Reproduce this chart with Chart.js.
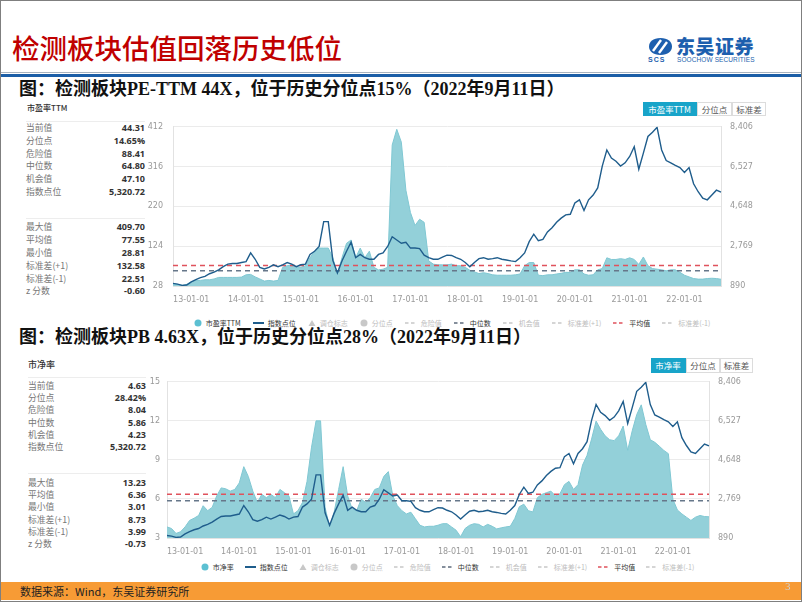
<!DOCTYPE html>
<html>
<head>
<meta charset="utf-8">
<script src="https://cdn.jsdelivr.net/npm/chart.js@4.4.0/dist/chart.umd.min.js"></script>
<style>
body{margin:0;background:#fff;font-family:"Noto Sans CJK SC",sans-serif;}
#page{position:relative;width:802px;height:602px;overflow:hidden;background:#fff;}
.frame{position:absolute;left:0;top:0;width:800px;height:600px;border:1px solid #7f7f7f;pointer-events:none;z-index:5;}
.title{position:absolute;left:12px;top:30px;font-size:27.5px;line-height:34px;color:#C00000;font-weight:500;white-space:nowrap;}
.hdr-line{position:absolute;left:0;top:72px;width:802px;height:1px;background:#a9b3bf;}
.hdr-bar{position:absolute;left:0;top:74px;width:802px;height:3px;background:#1b5ea7;}
.logo-cn{position:absolute;left:676px;top:34px;font-size:19px;line-height:24px;font-weight:900;color:#1d5fae;letter-spacing:0.5px;}
.logo-en{position:absolute;left:677px;top:56px;font-size:6.5px;line-height:8px;color:#1d5fae;font-family:"Liberation Sans",sans-serif;letter-spacing:0.1px;}
.logo-scs{position:absolute;left:648px;top:56px;font-size:7px;line-height:8px;color:#1d5fae;font-weight:bold;font-family:"Liberation Sans",sans-serif;letter-spacing:1px;}
.sub{position:absolute;left:19px;font-family:"Liberation Serif","Noto Sans CJK SC",serif;font-weight:bold;font-size:18px;line-height:20px;color:#111;white-space:nowrap;}
.cap{position:absolute;font-size:8px;line-height:10px;color:#333;font-weight:500;}
.stat{position:absolute;width:119px;}
.stat .row{display:flex;justify-content:space-between;align-items:center;}
.stat .k{color:#777;font-size:8.8px;}
.stat .v{color:#333;font-size:9px;font-weight:bold;font-family:"Open Sans",sans-serif;}
.hline{position:absolute;height:1px;background:#ededed;}
.btns{position:absolute;display:flex;}
.btns span{display:block;font-size:8.5px;text-align:center;border:1px solid #dcdcdc;border-left:none;color:#555;background:#fff;box-sizing:border-box;}
.btns span.on{background:#18a4c9;color:#fff;border-color:#18a4c9;}
.legend{position:absolute;display:flex;justify-content:center;align-items:center;font-size:7px;white-space:nowrap;}
.legend .it{display:flex;align-items:center;}
.legend svg{margin-right:4px;}
canvas{position:absolute;}
.foot{position:absolute;left:1px;top:582px;width:800px;height:18px;background:#f79b35;}
.foot-t{position:absolute;left:20px;top:584px;font-size:11px;line-height:14px;color:#222;}
.pg{position:absolute;left:785px;top:580px;font-size:11px;line-height:12px;color:#d0d0d0;font-family:"Liberation Serif",serif;z-index:6;}
</style>
</head>
<body>
<div id="page">
  <div class="title">检测板块估值回落历史低位</div>
  <svg style="position:absolute;left:648px;top:37px" width="25" height="19" viewBox="0 0 25 19">
    <path d="M12.5 1 C5 1 1 5 1 9.5 C1 14 5 18 12.5 18 C20 18 24 14 24 9.5 C24 5 20 1 12.5 1Z" fill="#1d5fae"/>
    <path d="M5 14 L13 3" stroke="#fff" stroke-width="2.4"/>
    <path d="M11 16 L19 5" stroke="#fff" stroke-width="2.4"/>
  </svg>
  <div class="logo-scs">SCS</div>
  <div class="logo-cn">东吴证券</div>
  <div class="logo-en">SOOCHOW SECURITIES</div>
  <div class="hdr-line"></div>
  <div class="hdr-bar"></div>

  <div class="sub" style="top:79px">图：检测板块PE-TTM 44X，位于历史分位点15%（2022年9月11日）</div>
  <div class="cap" style="left:27px;top:103px">市盈率TTM</div>
  <div class="hline" style="left:26px;top:121px;width:119px"></div>
  <div class="stat" id="peA" style="left:26px;top:121.5px"></div>
  <div class="hline" style="left:26px;top:218px;width:119px"></div>
  <div class="stat" id="peB" style="left:26px;top:220.5px"></div>
  <div class="btns" style="left:643px;top:102px" id="peBtns"></div>
  <canvas id="peChart" width="620" height="196" style="left:140px;top:112px"></canvas>
  <div class="legend" id="peLegend" style="left:150px;top:318px;width:604px;height:10px"></div>

  <div class="sub" style="top:327px">图：检测板块PB 4.63X，位于历史分位点28%（2022年9月11日）</div>
  <div class="cap" style="left:28px;top:360px;font-size:9px">市净率</div>
  <div class="hline" style="left:28px;top:377px;width:118px"></div>
  <div class="stat" id="pbA" style="left:28px;top:378.8px;width:118px"></div>
  <div class="hline" style="left:28px;top:473px;width:118px"></div>
  <div class="stat" id="pbB" style="left:28px;top:475.8px;width:118px"></div>
  <div class="btns" style="left:651px;top:358px" id="pbBtns"></div>
  <canvas id="pbChart" width="610" height="190" style="left:140px;top:368px"></canvas>
  <div class="legend" id="pbLegend" style="left:150px;top:562px;width:595px;height:10px"></div>

  <div class="foot"></div>
  <div class="foot-t">数据来源：Wind，东吴证券研究所</div>
  <div class="pg">3</div>
  <div class="frame"></div>
</div>
<script>
// 月度日期（2012-09 ~ 2022-09）
const months = [
  '2012-09','2012-10','2012-11','2012-12',
  '2013-01','2013-02','2013-03','2013-04','2013-05','2013-06','2013-07','2013-08','2013-09','2013-10','2013-11','2013-12',
  '2014-01','2014-02','2014-03','2014-04','2014-05','2014-06','2014-07','2014-08','2014-09','2014-10','2014-11','2014-12',
  '2015-01','2015-02','2015-03','2015-04','2015-05','2015-06','2015-07','2015-08','2015-09','2015-10','2015-11','2015-12',
  '2016-01','2016-02','2016-03','2016-04','2016-05','2016-06','2016-07','2016-08','2016-09','2016-10','2016-11','2016-12',
  '2017-01','2017-02','2017-03','2017-04','2017-05','2017-06','2017-07','2017-08','2017-09','2017-10','2017-11','2017-12',
  '2018-01','2018-02','2018-03','2018-04','2018-05','2018-06','2018-07','2018-08','2018-09','2018-10','2018-11','2018-12',
  '2019-01','2019-02','2019-03','2019-04','2019-05','2019-06','2019-07','2019-08','2019-09','2019-10','2019-11','2019-12',
  '2020-01','2020-02','2020-03','2020-04','2020-05','2020-06','2020-07','2020-08','2020-09','2020-10','2020-11','2020-12',
  '2021-01','2021-02','2021-03','2021-04','2021-05','2021-06','2021-07','2021-08','2021-09','2021-10','2021-11','2021-12',
  '2022-01','2022-02','2022-03','2022-04','2022-05','2022-06','2022-07','2022-08','2022-09'
];
const xTickLabels = ['13-01-01','14-01-01','15-01-01','16-01-01','17-01-01','18-01-01','19-01-01','20-01-01','21-01-01','22-01-01'];

// 指数点位
const indexPts = [
  1013,981,920,936,
  1086,1195,1286,1346,1468,1541,1651,1801,1924,1951,1951,1997,
  2042,2452,2152,1770,1696,1770,1892,1801,1892,1997,1924,1801,
  1892,1924,2379,2530,2758,3928,3928,2100,1500,2074,2530,2955,
  2225,2379,2225,2152,2152,2379,2452,2758,3213,3062,2909,2955,
  2681,2681,2653,2348,2225,2152,2152,2257,2348,2333,2225,2152,
  1997,1800,2000,2180,2226,2152,2180,2226,2152,2120,2074,2043,
  2226,2452,2985,3336,3031,3091,3441,3638,3896,4094,4246,4275,
  4807,4958,4458,4958,5186,5522,6553,7313,6934,6780,6553,6707,
  7007,7463,6402,7162,7950,8146,8380,7313,6812,6707,6584,6478,
  6251,6478,5718,5340,5035,4958,5186,5413,5321
];
// 市盈率TTM
const peTTM = [
  33,32,29.5,32,
  38,41.5,41.5,43,43,45,48.7,48.7,48.7,48.7,48.7,49.5,
  55,56,50,45,39.8,41.5,39.8,41.5,73,76.9,79,74.5,
  73,76.9,96,111.8,119.5,119.5,119.5,96,57.5,96,131,139,
  96,119.5,96,112,73,66.8,68.6,73,368,406,375,259,
  205,174,189,181.6,88.5,80.8,79,79,79,80.8,76.9,76.9,
  73,66,62,58,60,58,55,54,54,54,54,55,
  57,77,84.5,84.5,54,53,55,55,57,58.6,60.9,60.9,
  67,67,57,54,55,67,70,96,92,92,94,92,
  96,92,80,98,77,70,68.6,67,64.7,67,67,61,
  54,50,46,44.6,44.6,46,46.7,46,44.31
];
// 市净率
const pbVals = [
  3.85,3.73,3.35,3.48,
  3.85,4.35,4.52,4.73,5.48,5.1,5.35,6.23,6.85,6.78,6.6,6.73,
  7.23,8.48,7.73,6.6,5.73,6.35,6.1,6.35,6.1,6.73,6.48,6.23,
  4.85,5.1,5.73,7.35,9.98,12.0,12.0,5.35,3.85,4.98,6.73,8.48,
  6.23,5.23,5.1,5.98,5.73,6.1,6.73,6.85,7.73,8.1,6.23,5.48,
  5.1,4.85,4.98,4.48,3.98,3.85,3.9,3.9,3.98,4.1,4.1,3.85,
  3.6,3.1,3.73,3.98,4.1,4.05,3.85,4.05,3.9,3.7,3.78,3.85,
  3.9,4.5,5.4,5.6,5.1,5.0,6.1,6.35,6.48,6.6,6.23,6.4,
  7.1,7.35,6.73,7.1,8.6,9.35,10.6,11.98,11.35,10.85,10.55,10.48,
  10.85,11.6,9.73,11.23,12.48,13.23,11.73,10.55,10.35,10.05,9.73,9.48,
  5.98,5.15,4.85,4.6,4.35,4.6,4.73,4.65,4.63
];

const peTicks = [28,124,220,316,412];
const pbTicks = [3,6,9,12,15];
const idxTicks = [890,2769,4648,6527,8406];

const statKeysA = ['当前值','分位点','危险值','中位数','机会值','指数点位'];
const statKeysB = ['最大值','平均值','最小值','标准差(+1)','标准差(-1)','z 分数'];
const peStatsA = ['44.31','14.65%','88.41','64.80','47.10','5,320.72'];
const peStatsB = ['409.70','77.55','28.81','132.58','22.51','-0.60'];
const pbStatsA = ['4.63','28.42%','8.04','5.86','4.23','5,320.72'];
const pbStatsB = ['13.23','6.36','3.01','8.73','3.99','-0.73'];
const peMean = 77.55, peMedian = 64.80;
const pbMean = 6.36, pbMedian = 5.86;

const legendRest = ['指数点位','调仓标志','分位点','危险值','中位数','机会值','标准差(+1)','平均值','标准差(-1)'];

function fillStats(id, keys, vals, lh){
  const el = document.getElementById(id);
  keys.forEach((k,i)=>{
    const r = document.createElement('div');
    r.className = 'row'; r.style.height = lh+'px';
    r.innerHTML = `<span class="k">${k}</span><span class="v">${vals[i]}</span>`;
    el.appendChild(r);
  });
}
fillStats('peA', statKeysA, peStatsA, 12.7);
fillStats('peB', statKeysB, peStatsB, 12.8);
fillStats('pbA', statKeysA, pbStatsA, 12.4);
fillStats('pbB', statKeysB, pbStatsB, 12.4);

function makeBtns(id, first, widths, h){
  const el = document.getElementById(id);
  [first,'分位点','标准差'].forEach((t,i)=>{
    const s = document.createElement('span');
    if(i===0) s.className = 'on';
    s.textContent = t;
    s.style.width = widths[i]+'px'; s.style.height = h+'px'; s.style.lineHeight = (h-2)+'px';
    if(i>0) s.style.borderLeft = '1px solid #dcdcdc';
    el.appendChild(s);
  });
}
makeBtns('peBtns','市盈率TTM',[54,35,34],14);
makeBtns('pbBtns','市净率',[35,34,33],15);

function marker(kind){
  const grey = '#c8c8c8';
  if(kind==='dot') return '<svg width="8" height="8"><circle cx="4" cy="4" r="3.5" fill="#5cc0d2"/></svg>';
  if(kind==='line') return '<svg width="11" height="8"><line x1="0" y1="4" x2="11" y2="4" stroke="#1f5d8c" stroke-width="2"/></svg>';
  if(kind==='tri') return '<svg width="8" height="8"><path d="M4 1 L7.5 7 L0.5 7Z" fill="'+grey+'"/></svg>';
  if(kind==='gdot') return '<svg width="8" height="8"><circle cx="4" cy="4" r="3.5" fill="'+grey+'"/></svg>';
  const c = kind==='red' ? '#e0525c' : kind==='dark' ? '#5d6b7c' : grey;
  return '<svg width="12" height="8"><line x1="0" y1="4" x2="12" y2="4" stroke="'+c+'" stroke-width="1.5" stroke-dasharray="3.5,2.5"/></svg>';
}
function makeLegend(id, first, gap){
  const el = document.getElementById(id);
  const names = [first].concat(legendRest);
  const kinds = ['dot','line','tri','gdot','grey','dark','grey','grey','red','grey'];
  const on = [true,true,false,false,false,true,false,false,true,false];
  names.forEach((n,i)=>{
    const d = document.createElement('div');
    d.className = 'it';
    d.style.marginRight = (i<names.length-1 ? gap : 0)+'px';
    d.innerHTML = marker(kinds[i]) + `<span style="color:${on[i]?'#333':'#bdbdbd'}">${n}</span>`;
    el.appendChild(d);
  });
}
makeLegend('peLegend','市盈率TTM',12);
makeLegend('pbLegend','市净率',11);

function xLabel(i){
  const m = months[i];
  if(m.slice(5)!=='01') return '';
  return xTickLabels.find(t=>t.slice(0,2)===m.slice(2,4)) || '';
}

function makeChart(id, name, vals, yTicks, mean, median, g){
  const tickFont = {size:8, family:'DejaVu Sans'};
  const first = months[0], last = months[months.length-1];
  return new Chart(document.getElementById(id), {
    type:'line',
    data:{ labels: months, datasets:[
      {label:'指数点位', data:indexPts, yAxisID:'y1', borderColor:'#1f5d8c', borderWidth:1.4, pointRadius:0, tension:0, fill:false},
      {label:'平均值', data:[{x:first,y:mean},{x:last,y:mean}], yAxisID:'y', borderColor:'#e0525c', borderWidth:1.4, borderDash:[5,4], pointRadius:0, fill:false},
      {label:'中位数', data:[{x:first,y:median},{x:last,y:median}], yAxisID:'y', borderColor:'#66778a', borderWidth:1.4, borderDash:[5,4], pointRadius:0, fill:false},
      {label:name, data:vals, yAxisID:'y', borderColor:'#80c8d3', borderWidth:1, backgroundColor:'#93d0d9', pointRadius:0, tension:0, fill:'start'}
    ]},
    options:{
      responsive:false, animation:false,
      layout:{padding:{top:g.padTop, left:0, right:0, bottom:0}},
      plugins:{legend:{display:false}, tooltip:{enabled:false}},
      scales:{
        x:{ grid:{display:false}, border:{display:true, color:'#e2e2e2'},
            ticks:{autoSkip:false, maxRotation:0, padding:g.xPad, color:'#999', font:tickFont, callback:(v,i)=>xLabel(i)},
            afterFit:s=>{ s.height = g.xH; } },
        y:{ position:'left', min:yTicks[0], max:yTicks[yTicks.length-1],
            grid:{color:'#ebebeb', drawTicks:false}, border:{display:true, color:'#e2e2e2'},
            ticks:{padding:g.lPad, color:'#999', font:tickFont},
            afterBuildTicks:s=>{ s.ticks = yTicks.map(v=>({value:v})); },
            afterFit:s=>{ s.width = g.lW; } },
        y1:{ position:'right', min:idxTicks[0], max:idxTicks[idxTicks.length-1],
            grid:{display:false, drawTicks:false}, border:{display:true, color:'#e2e2e2'},
            ticks:{padding:g.rPad, color:'#999', font:tickFont, callback:v=>v.toLocaleString('en-US')},
            afterBuildTicks:s=>{ s.ticks = idxTicks.map(v=>({value:v})); },
            afterFit:s=>{ s.width = g.rW; } }
      }
    }
  });
}
makeChart('peChart','市盈率TTM', peTTM, peTicks, peMean, peMedian, {padTop:9, xH:22, xPad:1, lW:33, lPad:10, rW:39, rPad:9});
makeChart('pbChart','市净率', pbVals, pbTicks, pbMean, pbMedian, {padTop:10, xH:20, xPad:1, lW:27, lPad:7, rW:41, rPad:9});
</script>
</body>
</html>
